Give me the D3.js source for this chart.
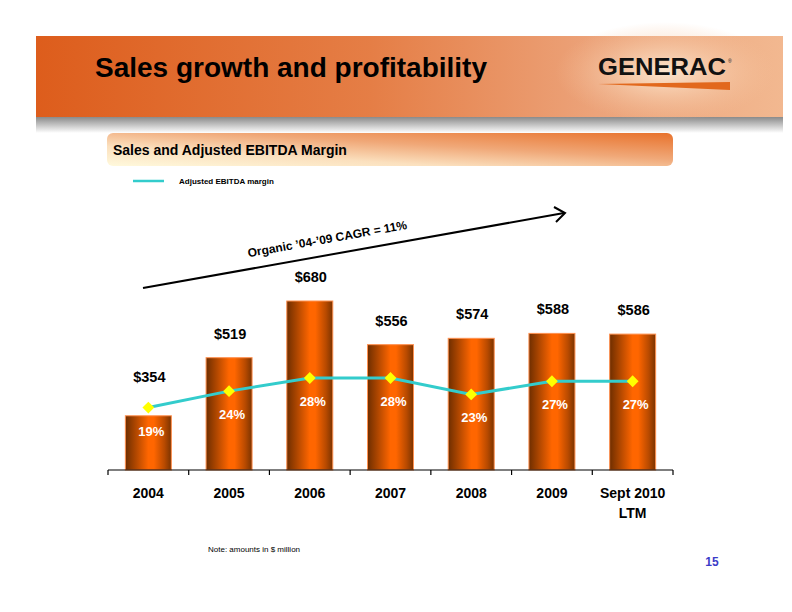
<!DOCTYPE html>
<html><head><meta charset="utf-8">
<script src="https://cdn.jsdelivr.net/npm/d3@7"></script>
<style>body{margin:0;background:#fff}svg{display:block}text{font-family:"Liberation Sans",Arial,sans-serif}</style>
</head><body>
<script>
const categories = ["2004","2005","2006","2007","2008","2009","Sept 2010|LTM"];
const sales = [354, 519, 680, 556, 574, 588, 586];
const margins = [19, 24, 28, 28, 23, 27, 27];
const salesLabels = ["$354","$519","$680","$556","$574","$588","$586"];
const marginLabels = ["19%","24%","28%","28%","23%","27%","27%"];
const title = "Sales growth and profitability";
const subtitle = "Sales and Adjusted EBITDA Margin";
const legendLabel = "Adjusted EBITDA margin";
const annotation = "Organic \u201904-\u201909 CAGR = 11%";
const note = "Note: amounts in $ million";
const pageNum = "15";

const W = 792, H = 612;
const svg = d3.select("body").append("svg").attr("width", W).attr("height", H);
const defs = svg.append("defs");

// header gradients
const hg = defs.append("linearGradient").attr("id","hdr");
[["0%","#DD5D1C"],["45%","#E57E46"],["75%","#ECA37A"],["100%","#F2B890"]].forEach(s=>hg.append("stop").attr("offset",s[0]).attr("stop-color",s[1]));
const hr = defs.append("radialGradient").attr("id","hdrGlow").attr("cx","0.5").attr("cy","0.5").attr("r","0.5");
hr.append("stop").attr("offset","0%").attr("stop-color","#FCE6CF").attr("stop-opacity",1);
hr.append("stop").attr("offset","100%").attr("stop-color","#F5C29C").attr("stop-opacity",0);
const sh = defs.append("linearGradient").attr("id","shadow").attr("x1",0).attr("y1",0).attr("x2",0).attr("y2",1);
sh.append("stop").attr("offset","0%").attr("stop-color","#8a8a8a");
sh.append("stop").attr("offset","100%").attr("stop-color","#ffffff");
const sb = defs.append("linearGradient").attr("id","sub").attr("x1",0).attr("y1",1).attr("x2",1).attr("y2",0);
[["0%","#FFF9DC"],["30%","#FBE0BE"],["60%","#F0A878"],["100%","#E8722C"]].forEach(s=>sb.append("stop").attr("offset",s[0]).attr("stop-color",s[1]));
const bg = defs.append("linearGradient").attr("id","bar");
[["0%","#6E2E00"],["20%","#A84400"],["50%","#FF6600"],["62%","#FF6600"],["85%","#B84A00"],["100%","#7A3300"]].forEach(s=>bg.append("stop").attr("offset",s[0]).attr("stop-color",s[1]));

// header band
svg.append("rect").attr("x",36).attr("y",117).attr("width",747).attr("height",16).attr("fill","url(#shadow)");
svg.append("rect").attr("x",36).attr("y",36).attr("width",747).attr("height",81).attr("fill","url(#hdr)");
svg.append("ellipse").attr("cx",665).attr("cy",72).attr("rx",110).attr("ry",50).attr("fill","url(#hdrGlow)");
svg.append("text").attr("x",95).attr("y",77).attr("font-size",28).attr("font-weight","bold").attr("fill","#000")
  .attr("textLength",392).attr("lengthAdjust","spacingAndGlyphs").text(title);
// logo
svg.append("text").attr("x",598).attr("y",75).attr("font-size",23).attr("font-weight","bold").attr("fill","#111")
  .attr("textLength",128).attr("lengthAdjust","spacingAndGlyphs").attr("font-family","DejaVu Sans").text("GENERAC");
svg.append("text").attr("x",728).attr("y",63).attr("font-size",5).attr("fill","#111").text("\u00AE");
svg.append("path").attr("d","M598,84 L730,82 L730,90 Z").attr("fill","#E2681C");

// subtitle box
svg.append("rect").attr("x",107).attr("y",133).attr("width",566).attr("height",33).attr("rx",6).attr("fill","url(#sub)");
svg.append("text").attr("x",113).attr("y",155).attr("font-size",14).attr("font-weight","bold").attr("fill","#000").text(subtitle);

// legend
svg.append("line").attr("x1",133).attr("x2",164).attr("y1",181).attr("y2",181).attr("stroke","#33CCCC").attr("stroke-width",2.5);
svg.append("text").attr("x",179).attr("y",184).attr("font-size",8).attr("font-weight","bold").text(legendLabel);

// scales
const x = d3.scaleBand().domain(categories).range([108,673]).paddingInner(0.43).paddingOuter(0.215);
const y = d3.scaleLinear().domain([200,680]).range([470,301]);
const yM = d3.scaleLinear().domain([0,28]).range([470,378]);
const cx = c => x(c) + x.bandwidth()/2;

// bars
svg.append("g").selectAll("rect").data(categories).join("rect")
  .attr("x", c=>x(c)).attr("y", (c,i)=>y(sales[i])).attr("width", x.bandwidth())
  .attr("height", (c,i)=>y(200)-y(sales[i])).attr("fill","url(#bar)").attr("stroke","#FF9150").attr("stroke-width",1);

// axis
const axisG = svg.append("g").attr("transform","translate(0,470)");
axisG.append("line").attr("x1",108).attr("x2",673).attr("stroke","#000").attr("stroke-width",1.2);
const step = x.step();
axisG.selectAll("line.tick").data(d3.range(categories.length+1)).join("line").attr("class","tick")
  .attr("x1", i=>108+i*step).attr("x2", i=>108+i*step).attr("y1",0).attr("y2",5).attr("stroke","#000").attr("stroke-width",1.2);
categories.forEach(c=>{
  const lines = c.split("|");
  const t = svg.append("text").attr("x",cx(c)).attr("y",498).attr("text-anchor","middle").attr("font-size",14).attr("font-weight","bold");
  lines.forEach((l,j)=>t.append("tspan").attr("x",cx(c)).attr("dy", j?20:0).text(l));
});

// margin line
const line = d3.line().x((d,i)=>cx(categories[i])).y(d=>yM(d));
svg.append("path").datum(margins).attr("d",line).attr("fill","none").attr("stroke","#33CCCC").attr("stroke-width",3);
svg.append("g").selectAll("path").data(margins).join("path")
  .attr("d", d3.symbol(d3.symbolSquare, 70))
  .attr("transform",(d,i)=>`translate(${cx(categories[i])},${yM(d)}) rotate(45)`)
  .attr("fill","#FFFF00");

// margin labels
svg.append("g").selectAll("text").data(margins).join("text")
  .attr("x",(d,i)=>cx(categories[i])+3).attr("y",d=>yM(d)+28).attr("text-anchor","middle")
  .attr("font-size",13).attr("font-weight","bold").attr("fill","#fff").text((d,i)=>marginLabels[i]);

// sales labels
svg.append("g").selectAll("text").data(sales).join("text")
  .attr("x",(d,i)=>cx(categories[i])+1).attr("y",(d,i)=>Math.min(y(d), yM(margins[i])-7)-19)
  .attr("text-anchor","middle").attr("font-size",14.5).attr("font-weight","bold").attr("fill","#000").text((d,i)=>salesLabels[i]);

// CAGR arrow
svg.append("line").attr("x1",143).attr("y1",288).attr("x2",564).attr("y2",213).attr("stroke","#000").attr("stroke-width",2);
svg.append("path").attr("d","M554,207 L565,213 L556,222").attr("fill","none").attr("stroke","#000").attr("stroke-width",2);
const ang = Math.atan2(213-288, 564-143)*180/Math.PI;
svg.append("text").attr("transform",`translate(328,243) rotate(${ang})`).attr("text-anchor","middle")
  .attr("font-size",12).attr("font-weight","bold").text(annotation);

// note + page
svg.append("text").attr("x",208).attr("y",552).attr("font-size",8).text(note);
svg.append("text").attr("x",712).attr("y",566).attr("text-anchor","middle").attr("font-size",12).attr("font-weight","bold").attr("fill","#3C3CC8").text(pageNum);
</script>
</body></html>
